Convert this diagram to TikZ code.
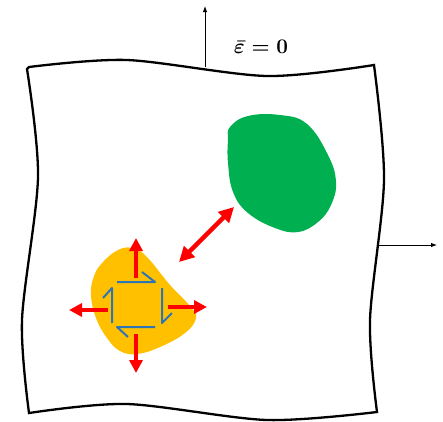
\documentclass[tikz,border=0pt]{standalone}
\usepackage{amsmath,amssymb}
\usepackage{bm}
\usepackage{xcolor}
\usepackage{tikz}
\usetikzlibrary{arrows.meta}
\usetikzlibrary{positioning}

\definecolor{goldblob}{RGB}{255,192,0}
\definecolor{greenblob}{RGB}{0,176,80}
\definecolor{shearblue}{RGB}{46,117,182}

\begin{document}
\begin{tikzpicture}[
    x=1pt, y=-1pt,
    sheet/.style={draw, line width=2.3pt, line join=miter},
    far field/.style={line width=0.9pt, -{Latex[length=6pt, width=4.5pt]}},
    push/.style={draw=red, line width=3.5pt, -{Triangle[length=13pt, width=13pt]}},
    link/.style={draw=red, line width=4.5pt, {Triangle[length=15pt, width=15pt]}-{Triangle[length=15pt, width=15pt]}},
    shear/.style={draw=shearblue, line width=2pt, line join=round},
  ]

  \useasboundingbox (0,0) rectangle (443,421);

  % the deformed sheet
  \draw[sheet] plot[smooth] coordinates {(29,67) (127,60) (267,76) (374,65)}
    -- plot[smooth] coordinates {(374,65) (384,180) (370,320) (377,412)}
    -- plot[smooth] coordinates {(377,412) (267,420) (127,404) (29,413)}
    -- plot[smooth] coordinates {(29,413) (22,320) (38,177) (27,69)}
    -- cycle;

  % remote loading
  \coordinate (top) at (205,67);
  \coordinate (topend) at (205,6);
  \coordinate (side) at (377,245);
  \coordinate (sideend) at (437,245);
  \draw[far field] (top) -- (topend);
  \draw[far field] (side) -- (sideend);
  \node[anchor=base, font=\fontsize{22}{24}\selectfont\boldmath] (eps) at (261,53)
    {$\bar{\varepsilon} = 0$};

  % inclusions
  \fill[greenblob] plot[smooth cycle, tension=0.7] coordinates {
    (230,127) (248,116) (280,115) (307,124) (328,155) (336,182) (331,205)
    (318,222) (298,232) (275,228) (248,213) (233,192) (228,163) (228,140)};
  \fill[goldblob] plot[smooth cycle, tension=0.7] coordinates {
    (103,262) (118,250) (132,248) (146,256) (170,285) (190,306) (196,318)
    (185,333) (160,347) (137,354) (120,351) (107,338) (96,318) (91,295) (94,276)};

  % eigenstrain expansion
  \coordinate (nb) at (136,278);
  \coordinate (nt) at (136,238);
  \coordinate (sb) at (136,334);
  \coordinate (st) at (136,373);
  \coordinate (wb) at (108,310);
  \coordinate (wt) at (69,310);
  \coordinate (eb) at (168,307);
  \coordinate (et) at (207,307);
  \draw[push] (nb) -- (nt);
  \draw[push] (sb) -- (st);
  \draw[push] (wb) -- (wt);
  \draw[push] (eb) -- (et);

  % shear on the element
  \draw[shear] (117,282) -- (155,282) -- (142,272);
  \draw[shear] (162,288) -- (162,323) -- (172,313);
  \draw[shear] (155,327) -- (117,327) -- (128,337);
  \draw[shear] (112,323) -- (112,288) -- (103,298);

  % interaction
  \coordinate (gold) at (179,262);
  \coordinate (green) at (234,207);
  \draw[link] (gold) -- (green);

\end{tikzpicture}
\end{document}
